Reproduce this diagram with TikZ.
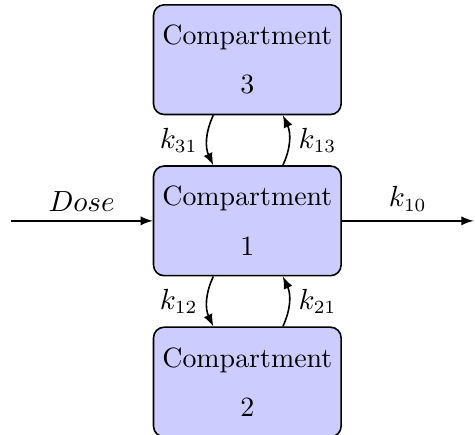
\documentclass[tikz,border=0pt]{standalone}
\usetikzlibrary{positioning,arrows}
\tikzset{
  every node/.style={font=\fontsize{10.5pt}{12.6pt}\selectfont},
  compbox/.style={draw, semithick, fill=blue!20, rounded corners=4pt, align=center,
    minimum width=2.46cm, minimum height=1.45cm},
  flow/.style={-latex, semithick}
}

\begin{document}
\begin{tikzpicture}

  \useasboundingbox (-3.27,-2.83) rectangle (3.01,2.92);
  \node [compbox] (c1) at (0,0) {Compartment\\[6pt]1};
  \node [compbox, above=0.66cm of c1] (c3) {Compartment\\[6pt]3};
  \node [compbox, below=0.66cm of c1] (c2) {Compartment\\[6pt]2};
  \coordinate (in) at (-3.13,0);
  \coordinate (out) at (2.99,0);
  \draw [flow] (in) -- node [above] {$Dose$} (c1);
  \draw [flow] (c1) -- node [above] {$k_{10}$} (out);
  % exchange between 1 and 3
  \draw [flow] ([xshift=-0.45cm]c3.south) to [bend right=25] node [left] {$k_{31}$} ([xshift=-0.45cm]c1.north);
  \draw [flow] ([xshift=0.47cm]c1.north) to [bend right=25] node [right] {$k_{13}$} ([xshift=0.47cm]c3.south);
  % exchange between 1 and 2
  \draw [flow] ([xshift=-0.45cm]c1.south) to [bend right=25] node [left] {$k_{12}$} ([xshift=-0.45cm]c2.north);
  \draw [flow] ([xshift=0.47cm]c2.north) to [bend right=25] node [right] {$k_{21}$} ([xshift=0.47cm]c1.south);
\end{tikzpicture}
\end{document}
